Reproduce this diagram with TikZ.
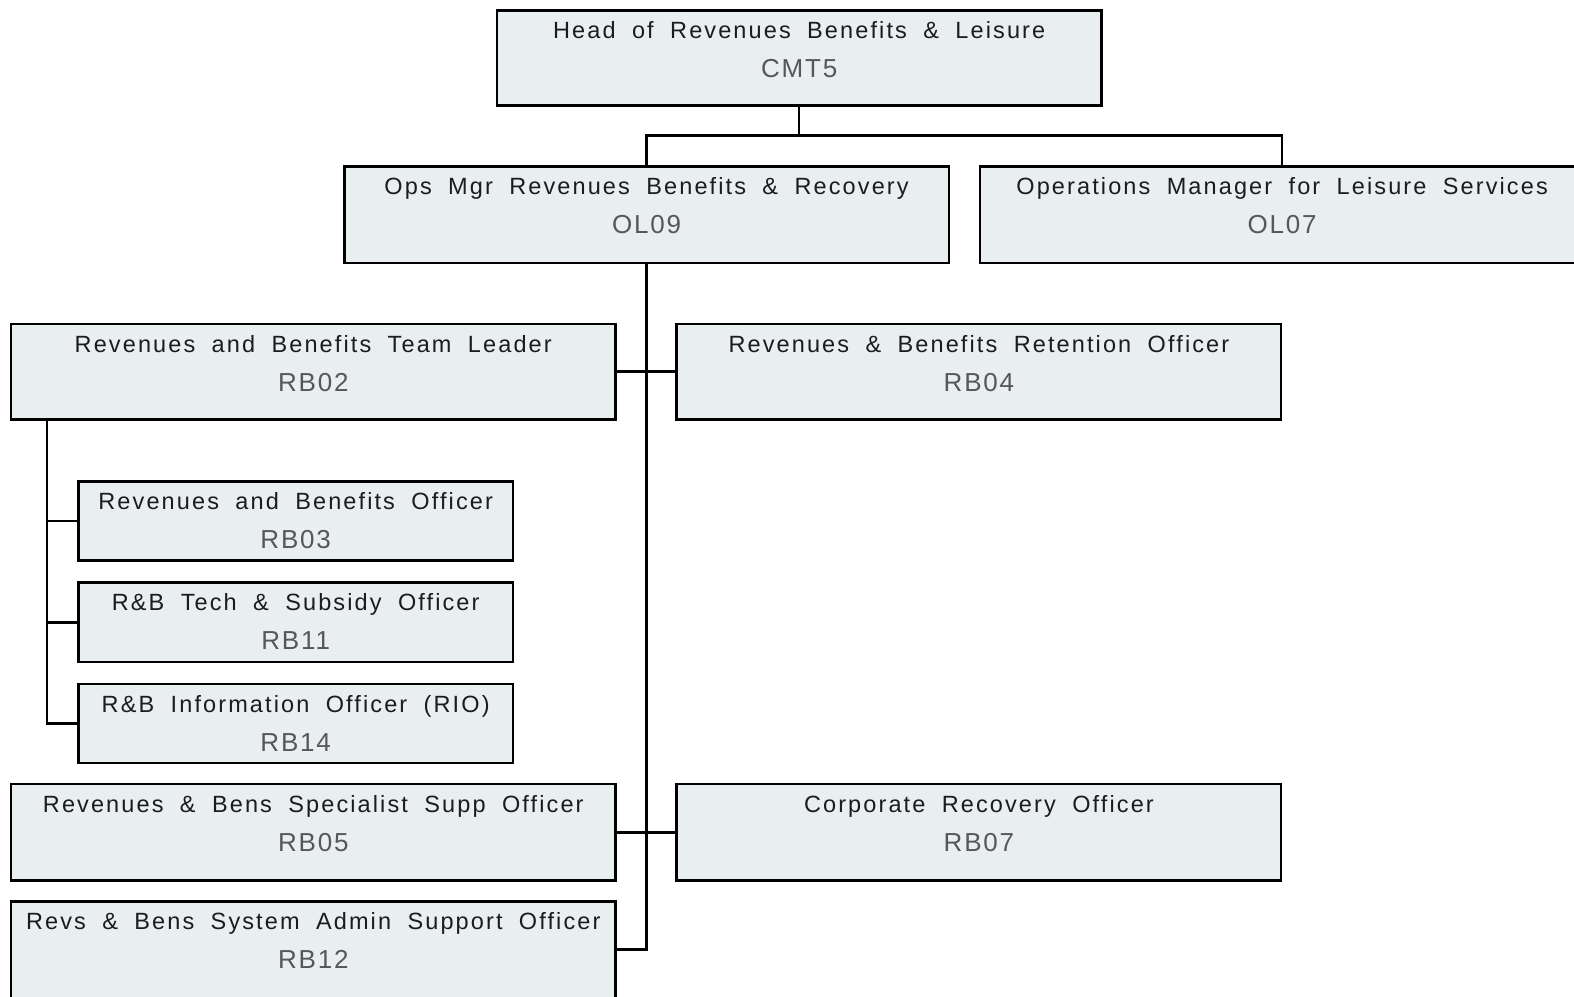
\documentclass[tikz,border=0pt]{standalone}
\usepackage{fontspec}
\setmainfont{Liberation Sans}
\newfontfamily\ttlfont[LetterSpace=9, WordSpace=1.9]{Liberation Sans}
\newfontfamily\codefont[LetterSpace=7]{Liberation Sans}
\definecolor{boxfill}{HTML}{E9EEF1}
\definecolor{codegray}{HTML}{575757}
\definecolor{ttlcol}{HTML}{1C1C1C}
\tikzset{
  obox/.style={draw=black, line width=2.5bp, fill=boxfill, rectangle, inner sep=0pt},
  ttl/.style={font=\ttlfont\fontsize{23.5bp}{27bp}\selectfont, text=ttlcol, inner sep=0pt},
  cde/.style={font=\codefont\fontsize{26bp}{30bp}\selectfont, text=codegray, inner sep=0pt},
  link/.style={draw=black, line width=2.5bp}
}
\newcommand\orgbox[7]{%
  \node[obox, minimum width=1.004*#4bp, minimum height=1.0025*#5bp, anchor=north] (#1) at (#2,#3) {};
  \node[ttl, anchor=base] (#1-t) at ([yshift=-29.5bp]#1.north) {#6};
  \node[cde, anchor=base] (#1-c) at ([yshift=-68.5bp]#1.north) {#7};
}
\begin{document}
\begin{tikzpicture}[x=1.004bp, y=-1.0025bp]
\useasboundingbox (0,0) rectangle (1567.73,993.52);
\clip (0,0) rectangle (1567.73,993.52);
\fill[white] (0,0) rectangle (1567.73,993.52);

\coordinate (j1) at (796,135);
\coordinate (s) at (47,417);

\orgbox{cmt}{796}{9}{602}{95}{Head of Revenues Benefits \& Leisure}{CMT5}
\orgbox{ol09}{644}{165}{602}{96}{Ops Mgr Revenues Benefits \& Recovery}{OL09}
\orgbox{ol07}{1277}{165}{602}{96}{Operations Manager for Leisure Services}{OL07}
\orgbox{rb02}{312}{322}{602}{95}{Revenues and Benefits Team Leader}{RB02}
\orgbox{rb04}{975}{322}{602}{95}{Revenues \& Benefits Retention Officer}{RB04}
\orgbox{rb03}{294.5}{479}{433}{79}{Revenues and Benefits Officer}{RB03}
\orgbox{rb11}{294.5}{580}{433}{79}{R\&B Tech \& Subsidy Officer}{RB11}
\orgbox{rb14}{294.5}{681}{433}{79}{R\&B Information Officer (RIO)}{RB14}
\orgbox{rb05}{312}{781}{602}{96}{Revenues \& Bens Specialist Supp Officer}{RB05}
\orgbox{rb07}{975}{781}{602}{96}{Corporate Recovery Officer}{RB07}
\orgbox{rb12}{312}{898}{602}{96}{Revs \& Bens System Admin Support Officer}{RB12}

\draw[link] (cmt.south) -- (j1);
\draw[link] (ol09.north) |- (j1) -| (ol07.north);
\draw[link] (ol09.south) |- (rb12.east);
\draw[link] (rb02.east) -- (rb04.west);
\draw[link] (rb05.east) -- (rb07.west);
\draw[link] (s) |- (rb14.west);
\draw[link] (rb03.west) -- (rb03.west -| s);
\draw[link] (rb11.west) -- (rb11.west -| s);
\end{tikzpicture}
\end{document}
